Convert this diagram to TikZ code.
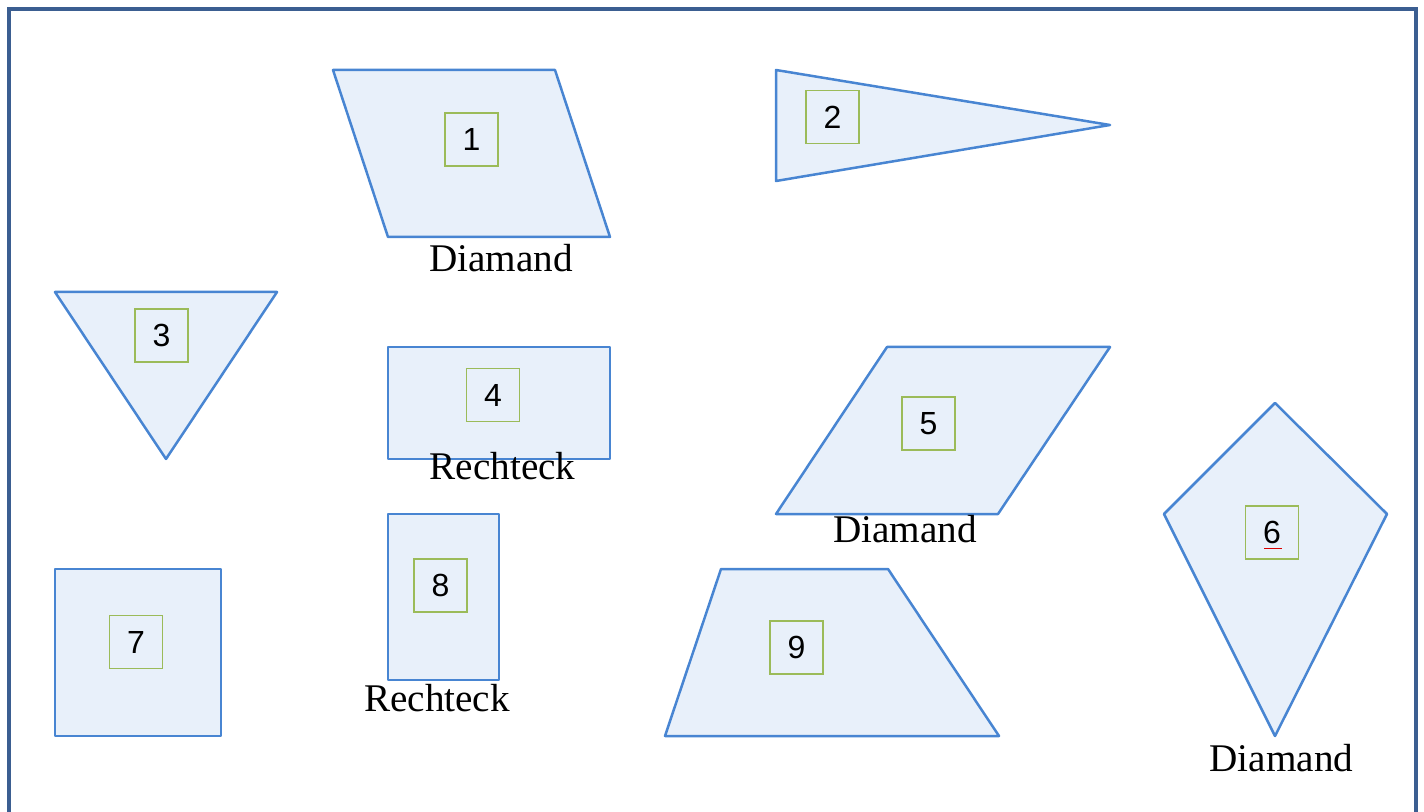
\documentclass[tikz,border=0pt]{standalone}
\usepackage{fontspec}
\setmainfont{Liberation Serif}
\newfontfamily\numfont{Liberation Sans}
\definecolor{framecol}{RGB}{59,94,145}
\definecolor{shapeline}{RGB}{72,133,210}
\definecolor{shapefill}{RGB}{232,240,250}
\definecolor{boxgreen}{RGB}{155,187,89}
\tikzset{
  form/.style={draw=shapeline, fill=shapefill, line width=1.25pt, line join=round},
  numbox/.style={draw=boxgreen, line width=0.7pt, minimum size=26.5pt, inner sep=0pt,
    font=\numfont\fontsize{16}{16}\selectfont},
  caption/.style={anchor=base, inner sep=0pt, font=\fontsize{19.6}{19.6}\selectfont}
}
\begin{document}
\begin{tikzpicture}[x=0.5pt, y=-0.5pt]
      \useasboundingbox (0,0) rectangle (1424,812);
      % Frame
      \draw[framecol, line width=2.25pt] (9,830) -- (9,9) -- (1416,9) -- (1416,830);
      % Define shapes
      \draw[form] (333,70) -- (555,70) -- (610,237) -- (388,237) -- cycle;
      \draw[form] (776,70) -- (1110,125) -- (776,181) -- cycle;
      \draw[form] (55,292) -- (277,292) -- (166,459) -- cycle;
      \draw[form] (388,347) rectangle (610,459);
      \draw[form] (887,347) -- (1110,347) -- (998,514) -- (776,514) -- cycle;
      \draw[form] (1275,403) -- (1387,514) -- (1275,736) -- (1164,514) -- cycle;
      \draw[form] (55,569) rectangle (221,736);
      \draw[form] (388,514) rectangle (499,680);
      \draw[form] (721,569) -- (888,569) -- (999,736) -- (665,736) -- cycle;
      % Define nodes
      \node[numbox] (n1) at (471.5,139.5) {1};
      \node[numbox] (n2) at (832.5,117) {2};
      \node[numbox] (n3) at (161.5,335.5) {3};
      \node[numbox] (n4) at (493,395) {4};
      \node[numbox] (n5) at (928.5,423.5) {5};
      \node[numbox] (n6) at (1272,532.5) {6};
      \node[numbox] (n7) at (136,642) {7};
      \node[numbox] (n8) at (440.5,585.5) {8};
      \node[numbox] (n9) at (796.5,647.5) {9};
      \draw[red!85!black, line width=0.8pt] (1264,548.5) -- (1282,548.5);
      % Labels
      \node[caption] (d1) at (501,272) {Diamand};
      \node[caption] (r4) at (502.5,480) {Rechteck};
      \node[caption] (d5) at (905,542) {Diamand};
      \node[caption] (d6) at (1281.5,771) {Diamand};
      \node[caption] (r8) at (437,711) {Rechteck};
    \end{tikzpicture}
\end{document}
